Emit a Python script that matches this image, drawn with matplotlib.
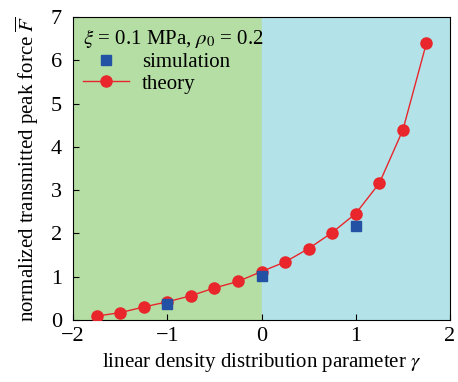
import matplotlib
matplotlib.use("Agg")
import matplotlib.pyplot as plt

plt.rcParams["font.family"] = ["Liberation Serif", "DejaVu Serif"]
plt.rcParams["mathtext.fontset"] = "stix"

# --- Data ---
gamma_theory = [-1.75, -1.5, -1.25, -1.0, -0.75, -0.5, -0.25, 0.0,
                0.25, 0.5, 0.75, 1.0, 1.25, 1.5, 1.75]
F_theory = [0.09, 0.17, 0.30, 0.42, 0.56, 0.74, 0.89, 1.12,
            1.34, 1.65, 2.02, 2.46, 3.16, 4.39, 6.40]
gamma_sim = [-1.0, 0.0, 1.0]
F_sim = [0.38, 1.01, 2.18]

fig = plt.figure(figsize=(4.58, 3.82), dpi=100)
ax = fig.add_axes([73 / 458, 62 / 382, 377 / 458, 303 / 382])

ax.axvspan(-2, 0, color="#b5dea5", zorder=0)
ax.axvspan(0, 2, color="#b3e3e8", zorder=0)

ax.plot(gamma_theory, F_theory, "-o", color="#e8262b", lw=1.0, ms=8,
        label="theory", zorder=3)
ax.plot(gamma_sim, F_sim, "s", color="#2352a4", ms=7, ls="none",
        label="simulation", zorder=4)

ax.set_xlim(-2, 2)
ax.set_ylim(0, 7)
ax.set_xticks([-2, -1, 0, 1, 2])
ax.set_xticklabels(["\u22122", "\u22121", "0", "1", "2"])
ax.set_yticks(range(8))
ax.tick_params(direction="in", labelsize=16, length=4, top=False, right=False)
ax.tick_params(axis="x", pad=5)
ax.tick_params(axis="y", pad=8)
ax.set_xlabel(r"linear density distribution parameter $\gamma$", fontsize=15,
              labelpad=4)
ax.set_ylabel(r"normalized transmitted peak force $\overline{F}$", fontsize=15,
              labelpad=7)

handles, labels = ax.get_legend_handles_labels()
leg = ax.legend(handles[::-1], labels[::-1], loc="upper left",
                title=r"$\xi$ = 0.1 MPa, $\rho_0$ = 0.2", title_fontsize=15,
                fontsize=15, frameon=False, borderaxespad=0.1,
                handletextpad=0.6, labelspacing=0.1, handlelength=2.2)
leg._legend_box.align = "left"

fig.savefig("out.png", dpi=100)
